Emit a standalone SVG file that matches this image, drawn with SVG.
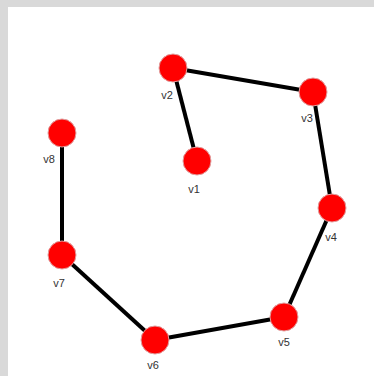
<svg xmlns="http://www.w3.org/2000/svg" width="374" height="376" viewBox="0 0 374 376">
<style>
.edge{stroke:#000;stroke-width:4;fill:none}
.node circle{fill:#ff0000;stroke:#e0a0a0;stroke-width:1}
.node text{font-family:"Liberation Sans",Arial,sans-serif;font-size:11px;fill:#333;text-anchor:middle}
</style>
<rect x="0" y="0" width="374" height="376" fill="#d9d9d9"/>
<rect x="8" y="7" width="366" height="369" fill="#ffffff"/>
<g id="edges">
<line class="edge" x1="197" y1="161" x2="173" y2="68"/>
<line class="edge" x1="173" y1="68" x2="313" y2="92"/>
<line class="edge" x1="313" y1="92" x2="332" y2="208"/>
<line class="edge" x1="332" y1="208" x2="284" y2="317"/>
<line class="edge" x1="284" y1="317" x2="155" y2="340"/>
<line class="edge" x1="155" y1="340" x2="62" y2="255"/>
<line class="edge" x1="62" y1="255" x2="62" y2="133"/>
</g>
<g id="v1" class="node"><circle cx="197" cy="161" r="14"/><text x="194" y="193">v1</text></g>
<g id="v2" class="node"><circle cx="173" cy="68" r="14"/><text x="167" y="99">v2</text></g>
<g id="v3" class="node"><circle cx="313" cy="92" r="14"/><text x="307" y="122">v3</text></g>
<g id="v4" class="node"><circle cx="332" cy="208" r="14"/><text x="331" y="241">v4</text></g>
<g id="v5" class="node"><circle cx="284" cy="317" r="14"/><text x="284" y="346">v5</text></g>
<g id="v6" class="node"><circle cx="155" cy="340" r="14"/><text x="153" y="369">v6</text></g>
<g id="v7" class="node"><circle cx="62" cy="255" r="14"/><text x="59" y="287">v7</text></g>
<g id="v8" class="node"><circle cx="62" cy="133" r="14"/><text x="49" y="163">v8</text></g>
</svg>
